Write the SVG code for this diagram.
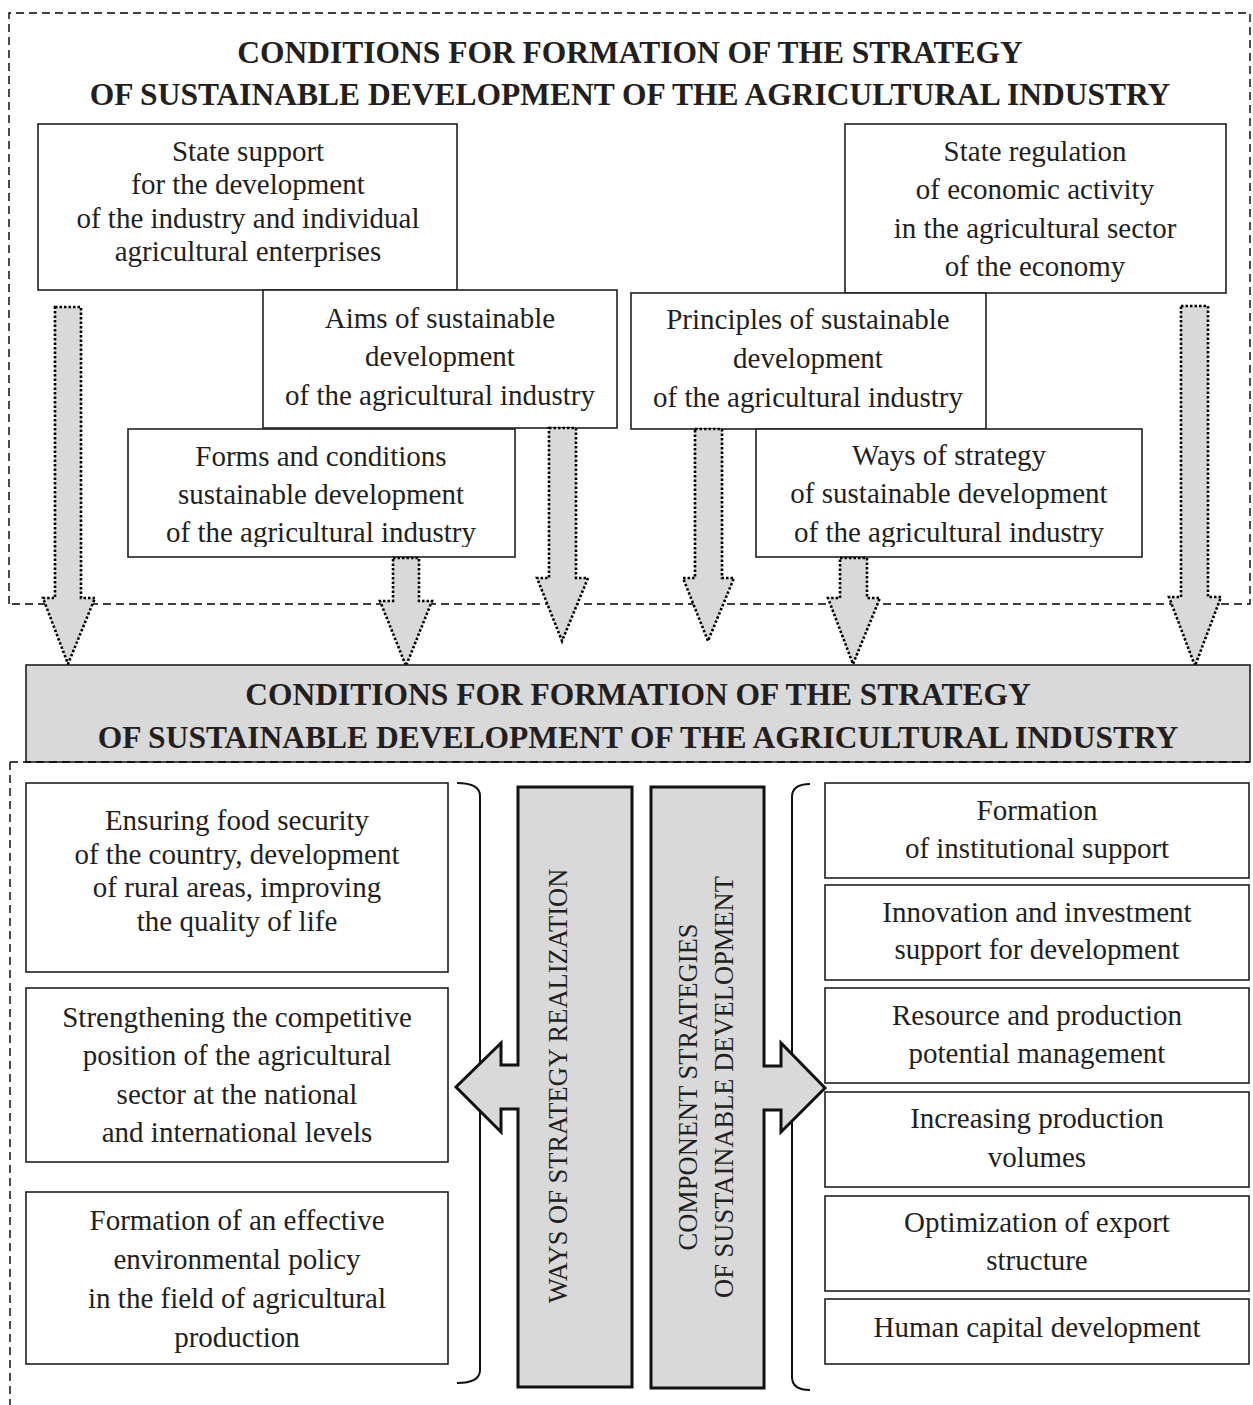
<svg xmlns="http://www.w3.org/2000/svg" width="1253" height="1405" viewBox="0 0 1253 1405">
<style>
  .box{fill:#fff;stroke:#231f20;stroke-width:1.6}
  .t{font-family:"Liberation Serif","Times New Roman",serif;font-size:29px;fill:#231f20;text-anchor:middle}
  .h{font-family:"Liberation Serif","Times New Roman",serif;font-size:31.5px;font-weight:bold;fill:#231f20;text-anchor:middle}
  .v{font-family:"Liberation Serif","Times New Roman",serif;font-size:26.5px;fill:#231f20;text-anchor:middle}
  .dash{fill:none;stroke:#000;stroke-width:1.4;stroke-dasharray:8 5}
  .darr{fill:#d9d9d9;stroke:#000;stroke-width:2.6;stroke-dasharray:2.5 2}
  .col{fill:#d9d9d9;stroke:#111;stroke-width:3}
  .brace{fill:none;stroke:#111;stroke-width:2}
</style>
<defs>
  <clipPath id="clipForms"><rect x="128" y="429" width="388" height="118"/></clipPath>
  <clipPath id="clipWays"><rect x="756" y="429" width="388" height="118"/></clipPath>
</defs>

<g id="frame-top">
  <path class="dash" d="M9,604 L9,13 L1250,13 L1250,604 L9,604"/>
  <text class="h" x="630" y="63">CONDITIONS FOR FORMATION OF THE STRATEGY</text>
  <text class="h" x="630" y="105">OF SUSTAINABLE DEVELOPMENT OF THE AGRICULTURAL INDUSTRY</text>
</g>

<g id="node-state-support">
  <rect class="box" x="38" y="124" width="419" height="166"/>
  <text class="t" x="248" y="161">State support</text>
  <text class="t" x="248" y="194">for the development</text>
  <text class="t" x="248" y="228">of the industry and individual</text>
  <text class="t" x="248" y="261">agricultural enterprises</text>
</g>

<g id="node-state-regulation">
  <rect class="box" x="845" y="124" width="381" height="169"/>
  <text class="t" x="1035" y="161">State regulation</text>
  <text class="t" x="1035" y="199">of economic activity</text>
  <text class="t" x="1035" y="238">in the agricultural sector</text>
  <text class="t" x="1035" y="276">of the economy</text>
</g>

<g id="node-aims">
  <rect class="box" x="263" y="290" width="354" height="138"/>
  <text class="t" x="440" y="328">Aims of sustainable</text>
  <text class="t" x="440" y="366">development</text>
  <text class="t" x="440" y="405">of the agricultural industry</text>
</g>

<g id="node-principles">
  <rect class="box" x="631" y="293" width="355" height="136"/>
  <text class="t" x="808" y="329">Principles of sustainable</text>
  <text class="t" x="808" y="368">development</text>
  <text class="t" x="808" y="407">of the agricultural industry</text>
</g>

<g id="node-forms">
  <rect class="box" x="128" y="429" width="387" height="128"/>
  <g clip-path="url(#clipForms)">
    <text class="t" x="321" y="466">Forms and conditions</text>
    <text class="t" x="321" y="504">sustainable development</text>
    <text class="t" x="321" y="542">of the agricultural industry</text>
  </g>
</g>

<g id="node-ways">
  <rect class="box" x="756" y="429" width="386" height="128"/>
  <g clip-path="url(#clipWays)">
    <text class="t" x="949" y="465">Ways of strategy</text>
    <text class="t" x="949" y="503">of sustainable development</text>
    <text class="t" x="949" y="542">of the agricultural industry</text>
  </g>
</g>

<g id="connectors">
  <polygon class="darr" points="55,307 81,307 81,598 95,598 68,664 43,598 55,598"/>
  <polygon class="darr" points="393,558 419,558 419,601 432,601 406,666 380,601 393,601"/>
  <polygon class="darr" points="549,428 576,428 576,578 588,578 562,641 537,578 549,578"/>
  <polygon class="darr" points="695,429 722,429 722,578 734,578 708,641 683,578 695,578"/>
  <polygon class="darr" points="840,558 867,558 867,598 880,598 853,664 828,598 840,598"/>
  <polygon class="darr" points="1181,306 1208,306 1208,597 1221,597 1195,666 1169,597 1181,597"/>
</g>

<g id="node-center">
  <rect x="26" y="665" width="1224" height="97" fill="#d9d9d9" stroke="#231f20" stroke-width="1.6"/>
  <text class="h" x="638" y="705">CONDITIONS FOR FORMATION OF THE STRATEGY</text>
  <text class="h" x="638" y="748">OF SUSTAINABLE DEVELOPMENT OF THE AGRICULTURAL INDUSTRY</text>
</g>

<g id="frame-bottom">
  <path class="dash" d="M10,762 L1250,762 M10,762 L10,1405"/>
</g>

<g id="node-food">
  <rect class="box" x="26" y="783" width="422" height="189"/>
  <text class="t" x="237" y="830">Ensuring food security</text>
  <text class="t" x="237" y="864">of the country, development</text>
  <text class="t" x="237" y="897">of rural areas, improving</text>
  <text class="t" x="237" y="931">the quality of life</text>
</g>

<g id="node-competitive">
  <rect class="box" x="26" y="988" width="422" height="174"/>
  <text class="t" x="237" y="1027">Strengthening the competitive</text>
  <text class="t" x="237" y="1065">position of the agricultural</text>
  <text class="t" x="237" y="1104">sector at the national</text>
  <text class="t" x="237" y="1142">and international levels</text>
</g>

<g id="node-environment">
  <rect class="box" x="26" y="1192" width="422" height="172"/>
  <text class="t" x="237" y="1230">Formation of an effective</text>
  <text class="t" x="237" y="1269">environmental policy</text>
  <text class="t" x="237" y="1308">in the field of agricultural</text>
  <text class="t" x="237" y="1347">production</text>
</g>

<g id="braces">
  <path class="brace" d="M457,783 Q480,783 480,796 L480,1370 Q480,1383 457,1383"/>
  <path class="brace" d="M810,784 Q792,784 792,797 L792,1377 Q792,1390 810,1390"/>
</g>

<g id="node-ways-realization">
  <polygon class="col" points="518,787 632,787 632,1387 518,1387 518,1109 501,1109 501,1132 456,1087 501,1043 501,1065 518,1065"/>
  <text class="v" transform="translate(567,1086) rotate(-90)">WAYS OF STRATEGY REALIZATION</text>
</g>

<g id="node-component-strategies">
  <polygon class="col" points="651,787 764,787 764,1066 781,1066 781,1043 825,1088 781,1132 781,1110 764,1110 764,1388 651,1388"/>
  <text class="v" transform="translate(697,1087) rotate(-90)">COMPONENT STRATEGIES<tspan x="0" dy="36">OF SUSTAINABLE DEVELOPMENT</tspan></text>
</g>

<g id="node-institutional">
  <rect class="box" x="825" y="783" width="424" height="95"/>
  <text class="t" x="1037" y="820">Formation</text>
  <text class="t" x="1037" y="858">of institutional support</text>
</g>
<g id="node-innovation">
  <rect class="box" x="825" y="885" width="424" height="95"/>
  <text class="t" x="1037" y="922">Innovation and investment</text>
  <text class="t" x="1037" y="959">support for development</text>
</g>
<g id="node-resource">
  <rect class="box" x="825" y="988" width="424" height="95"/>
  <text class="t" x="1037" y="1025">Resource and production</text>
  <text class="t" x="1037" y="1063">potential management</text>
</g>
<g id="node-volumes">
  <rect class="box" x="825" y="1092" width="424" height="95"/>
  <text class="t" x="1037" y="1128">Increasing production</text>
  <text class="t" x="1037" y="1167">volumes</text>
</g>
<g id="node-export">
  <rect class="box" x="825" y="1196" width="424" height="95"/>
  <text class="t" x="1037" y="1232">Optimization of export</text>
  <text class="t" x="1037" y="1270">structure</text>
</g>
<g id="node-human">
  <rect class="box" x="825" y="1299" width="424" height="65"/>
  <text class="t" x="1037" y="1337">Human capital development</text>
</g>
</svg>
